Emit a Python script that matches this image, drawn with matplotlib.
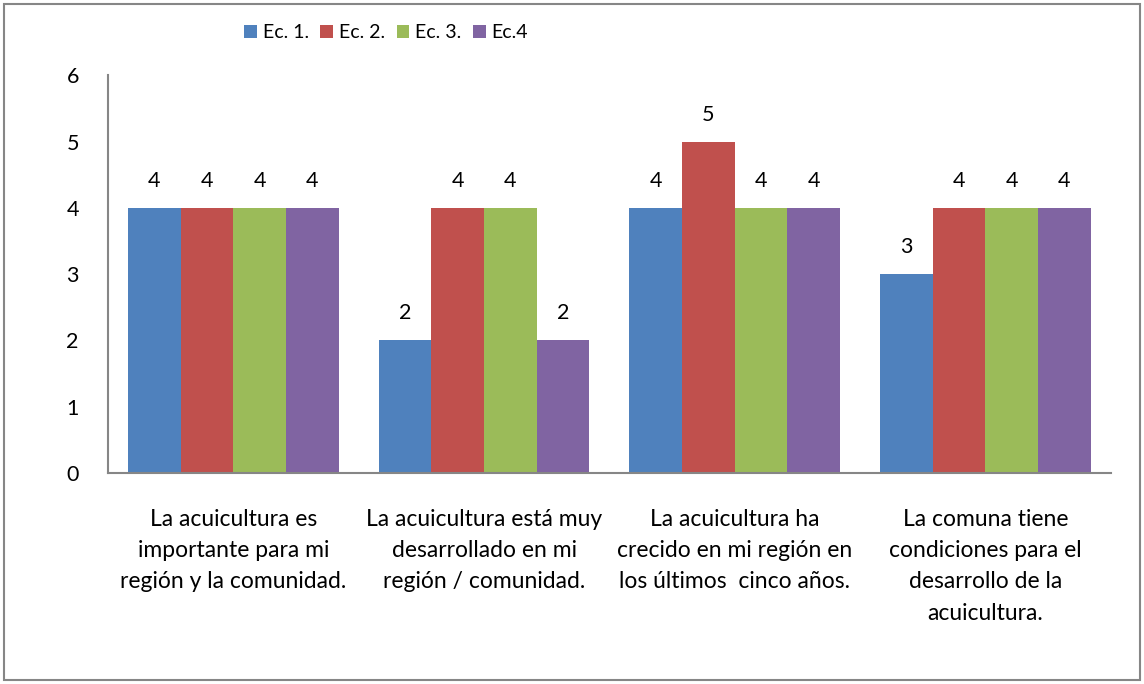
import matplotlib.pyplot as plt
import numpy as np
from matplotlib.patches import Rectangle

plt.rcParams["font.family"] = ["Lato", "DejaVu Sans"]

# Survey answers per statement and respondent
categories = [
    "La acuicultura es\nimportante para mi\nregión y la comunidad.",
    "La acuicultura está muy\ndesarrollado en mi\nregión / comunidad.",
    "La acuicultura ha\ncrecido en mi región en\nlos últimos  cinco años.",
    "La comuna tiene\ncondiciones para el\ndesarrollo de la\nacuicultura.",
]
series_names = ["Ec. 1.", "Ec. 2.", "Ec. 3.", "Ec.4"]
ec1 = [4, 2, 4, 3]
ec2 = [4, 4, 5, 4]
ec3 = [4, 4, 4, 4]
ec4 = [4, 2, 4, 4]
colors = ["#4F81BD", "#C0504D", "#9BBB59", "#8064A2"]

fig = plt.figure(figsize=(11.44, 6.84), dpi=100)
ax = fig.add_axes([0.0944, 0.3085, 0.8766, 0.5815])

x = np.arange(len(categories))
width = 0.21
for i, (vals, name, col) in enumerate(zip([ec1, ec2, ec3, ec4], series_names, colors)):
    b = ax.bar(x + (i - 1.5) * width, vals, width, color=col, label=name)
    for rect, v in zip(b, vals):
        ax.annotate(str(v), (rect.get_x() + rect.get_width() / 2, v),
                    xytext=(0, 27), textcoords="offset pixels",
                    ha="center", va="center", fontsize=15.5)

ax.set_xlim(-0.5, len(categories) - 0.5)
ax.set_ylim(0, 6)
ax.set_yticks(range(7))
ax.set_xticks(x)
ax.set_xticklabels(categories, fontsize=16.5, linespacing=1.6)
ax.tick_params(axis="both", length=0)
ax.tick_params(axis="y", pad=21, labelsize=15.5)
ax.tick_params(axis="x", pad=26)
ax.spines["top"].set_visible(False)
ax.spines["right"].set_visible(False)
for s in ["left", "bottom"]:
    ax.spines[s].set_color("#868686")
    ax.spines[s].set_linewidth(1.5)

fig.legend(loc="center", bbox_to_anchor=(386 / 1144, 1 - 33 / 684), ncol=4,
           frameon=False, fontsize=14, handlelength=0.65, handleheight=0.65,
           handletextpad=0.3, columnspacing=0.6)

# outer frame
fig.patches.append(Rectangle((4 / 1144, 4 / 684), 1136 / 1144, 676 / 684,
                             transform=fig.transFigure, fill=False,
                             edgecolor="#868686", linewidth=1.5))

fig.savefig("out.png", dpi=100)
